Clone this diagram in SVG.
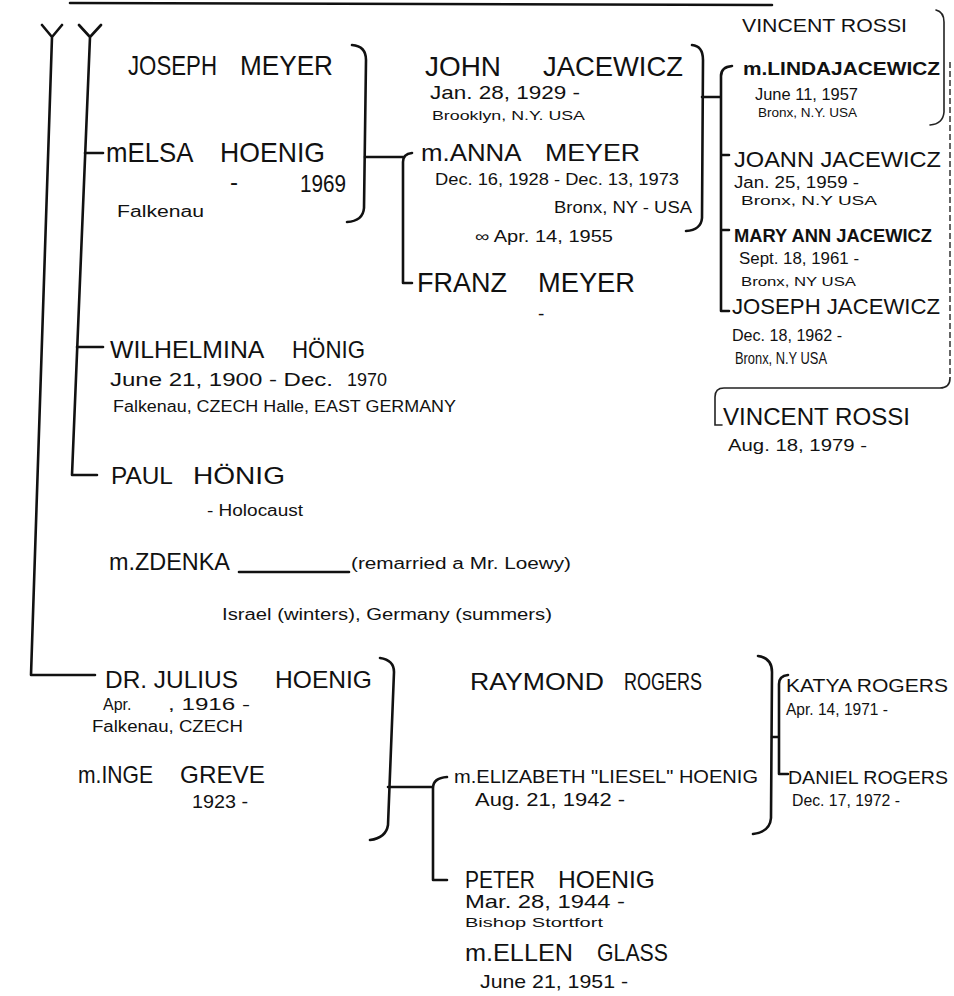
<svg xmlns="http://www.w3.org/2000/svg" width="954" height="996" viewBox="0 0 954 996">
<style>
text{font-family:"Liberation Sans","DejaVu Sans",sans-serif;fill:#111}
.n{font-size:28px}
.m{font-size:24px}
.r{font-size:22px}
.c{font-size:19px}
.d{font-size:16px}
.s{font-size:13px}
.b{font-weight:bold}
.ln{fill:none;stroke:#111;stroke-width:2.6;stroke-linecap:round;stroke-linejoin:round}
.th{fill:none;stroke:#222;stroke-width:1.6;stroke-linecap:round}
.ds{fill:none;stroke:#333;stroke-width:1.5;stroke-dasharray:6 3}
</style>
<rect width="954" height="996" fill="#fff"/>
<g id="connectors">
<path class="ln" d="M70 3 L772 5" stroke-width="3.5"/>
<path class="ln" d="M42 25 L52 37 L62 25 M52 37 L31 675 L95 675"/>
<path class="ln" d="M79 25 L90 37 L101 25 M90 37 L72 475 L97 475"/>
<path class="ln" d="M85 153 L103 153"/>
<path class="ln" d="M77 347 L103 347"/>
<path class="ln" d="M352 45 Q366 46 366 60 L364 208 Q363 221 347 222"/>
<path class="ln" d="M365 157 L403 157 M412 153 Q403 154 403 162 L403 283 L412 283"/>
<path class="ln" d="M692 45 Q703 46 703 60 L702 218 Q701 230 686 231"/>
<path class="ln" d="M702 97 L721 97 M732 66 Q721 67 721 76 L721 311 L729 311 M721 155 L729 155 M721 230 L729 230"/>
<path class="th" d="M936 10 Q944 12 944 22 L944 112 Q943 124 930 125"/>
<path class="ds" d="M950 62 L950 378"/>
<path class="th" d="M950 378 Q950 388 940 388 L724 388 Q715 388 715 397 L715 425 L722 425" stroke-width="1.9"/>
<path class="ln" d="M380 658 Q394 660 394 672 L388 825 Q386 838 370 840"/>
<path class="ln" d="M388 787 L433 787 M447 777 Q433 778 433 788 L433 880 L447 880"/>
<path class="ln" d="M758 656 Q772 658 772 672 L771 818 Q770 832 753 834" stroke-width="2.2"/>
<path class="ln" d="M772 737 L779 737 M788 675 Q779 676 779 684 L779 774 L788 774" stroke-width="2.2"/>
<path class="ln" d="M239 572 L349 572" stroke-width="2"/>
</g>
<g id="joseph-meyer">
<text class="n"><tspan x="128" y="75" textLength="89" lengthAdjust="spacingAndGlyphs">JOSEPH</tspan> <tspan x="240" y="75" textLength="93" lengthAdjust="spacingAndGlyphs">MEYER</tspan></text>
</g>
<g id="elsa-hoenig">
<text class="n"><tspan x="106" y="162" textLength="86" lengthAdjust="spacingAndGlyphs">mELSA</tspan> <tspan x="220" y="162" textLength="105" lengthAdjust="spacingAndGlyphs">HOENIG</tspan></text>
<text class="m"><tspan x="230" y="190">-</tspan> <tspan x="300" y="192" textLength="46" lengthAdjust="spacingAndGlyphs">1969</tspan></text>
<text class="d" x="117" y="217" textLength="87" lengthAdjust="spacingAndGlyphs">Falkenau</text>
</g>
<g id="john-jacewicz">
<text class="n"><tspan x="425" y="76" textLength="76" lengthAdjust="spacingAndGlyphs">JOHN</tspan> <tspan x="543" y="76" textLength="140" lengthAdjust="spacingAndGlyphs">JACEWICZ</tspan></text>
<text class="c" x="430" y="99" textLength="150" lengthAdjust="spacingAndGlyphs">Jan. 28, 1929 -</text>
<text class="s" x="432" y="120" textLength="153" lengthAdjust="spacingAndGlyphs">Brooklyn, N.Y. USA</text>
</g>
<g id="anna-meyer">
<text class="m"><tspan x="421" y="161" textLength="99" lengthAdjust="spacingAndGlyphs">m.ANNA</tspan> <tspan x="545" y="161" textLength="95" lengthAdjust="spacingAndGlyphs">MEYER</tspan></text>
<text class="d" x="435" y="185" textLength="244" lengthAdjust="spacingAndGlyphs">Dec. 16, 1928 - Dec. 13, 1973</text>
<text class="d" x="554" y="213" textLength="138" lengthAdjust="spacingAndGlyphs">Bronx, NY - USA</text>
<text class="d" x="475" y="242" textLength="138" lengthAdjust="spacingAndGlyphs">∞ Apr. 14, 1955</text>
</g>
<g id="franz-meyer">
<text class="n"><tspan x="417" y="292" textLength="90" lengthAdjust="spacingAndGlyphs">FRANZ</tspan> <tspan x="538" y="292" textLength="97" lengthAdjust="spacingAndGlyphs">MEYER</tspan></text>
<text class="c" x="538" y="320">-</text>
</g>
<g id="vincent-rossi-top">
<text class="c" x="742" y="32" textLength="165" lengthAdjust="spacingAndGlyphs">VINCENT ROSSI</text>
</g>
<g id="linda-jacewicz">
<text class="c b" x="743" y="75" textLength="197" lengthAdjust="spacingAndGlyphs">m.LINDAJACEWICZ</text>
<text class="d" x="755" y="100" textLength="103" lengthAdjust="spacingAndGlyphs">June 11, 1957</text>
<text class="s" x="758" y="117" textLength="99" lengthAdjust="spacingAndGlyphs">Bronx, N.Y. USA</text>
</g>
<g id="joann-jacewicz">
<text class="r" x="734" y="167" textLength="207" lengthAdjust="spacingAndGlyphs">JOANN JACEWICZ</text>
<text class="d" x="734" y="188" textLength="125" lengthAdjust="spacingAndGlyphs">Jan. 25, 1959 -</text>
<text class="s" x="741" y="205" textLength="136" lengthAdjust="spacingAndGlyphs">Bronx, N.Y USA</text>
</g>
<g id="maryann-jacewicz">
<text class="c b" x="734" y="242" textLength="198" lengthAdjust="spacingAndGlyphs">MARY ANN JACEWICZ</text>
<text class="d" x="739" y="264" textLength="120" lengthAdjust="spacingAndGlyphs">Sept. 18, 1961 -</text>
<text class="s" x="741" y="286" textLength="115" lengthAdjust="spacingAndGlyphs">Bronx, NY USA</text>
</g>
<g id="joseph-jacewicz">
<text class="r" x="732" y="314" textLength="208" lengthAdjust="spacingAndGlyphs">JOSEPH JACEWICZ</text>
<text class="d" x="732" y="341" textLength="110" lengthAdjust="spacingAndGlyphs">Dec. 18, 1962 -</text>
<text class="d" x="735" y="364" textLength="92" lengthAdjust="spacingAndGlyphs">Bronx, N.Y USA</text>
</g>
<g id="vincent-rossi">
<text class="m" x="723" y="425" textLength="187" lengthAdjust="spacingAndGlyphs">VINCENT ROSSI</text>
<text class="d" x="728" y="451" textLength="139" lengthAdjust="spacingAndGlyphs">Aug. 18, 1979 -</text>
</g>
<g id="wilhelmina-honig">
<text class="m"><tspan x="110" y="358" textLength="153" lengthAdjust="spacingAndGlyphs">WILHELMINA</tspan> <tspan x="292" y="358" textLength="73" lengthAdjust="spacingAndGlyphs">HÖNIG</tspan></text>
<text class="c"><tspan x="110" y="386" textLength="223" lengthAdjust="spacingAndGlyphs">June 21, 1900 - Dec.</tspan> <tspan x="347" y="386" textLength="40" lengthAdjust="spacingAndGlyphs">1970</tspan></text>
<text class="d" x="113" y="412" textLength="343" lengthAdjust="spacingAndGlyphs">Falkenau, CZECH Halle, EAST GERMANY</text>
</g>
<g id="paul-honig">
<text class="m"><tspan x="111" y="484" textLength="61" lengthAdjust="spacingAndGlyphs">PAUL</tspan> <tspan x="193" y="484" textLength="92" lengthAdjust="spacingAndGlyphs">HÖNIG</tspan></text>
<text class="d" x="207" y="516" textLength="96" lengthAdjust="spacingAndGlyphs">- Holocaust</text>
</g>
<g id="zdenka">
<text class="m" x="109" y="570" textLength="121" lengthAdjust="spacingAndGlyphs">m.ZDENKA</text>
<text class="d" x="351" y="569" textLength="220" lengthAdjust="spacingAndGlyphs">(remarried a Mr. Loewy)</text>
<text class="d" x="222" y="620" textLength="330" lengthAdjust="spacingAndGlyphs">Israel (winters), Germany (summers)</text>
</g>
<g id="julius-hoenig">
<text class="m"><tspan x="105" y="688" textLength="133" lengthAdjust="spacingAndGlyphs">DR. JULIUS</tspan> <tspan x="275" y="688" textLength="97" lengthAdjust="spacingAndGlyphs">HOENIG</tspan></text>
<text class="d"><tspan x="103" y="710">Apr.</tspan> <tspan x="168" y="710" textLength="82" lengthAdjust="spacingAndGlyphs">, 1916 -</tspan></text>
<text class="d" x="92" y="732" textLength="151" lengthAdjust="spacingAndGlyphs">Falkenau, CZECH</text>
</g>
<g id="inge-greve">
<text class="m"><tspan x="78" y="783" textLength="75" lengthAdjust="spacingAndGlyphs">m.INGE</tspan> <tspan x="180" y="783" textLength="85" lengthAdjust="spacingAndGlyphs">GREVE</tspan></text>
<text class="c" x="192" y="808" textLength="56" lengthAdjust="spacingAndGlyphs">1923 -</text>
</g>
<g id="raymond-rogers">
<text class="m"><tspan x="470" y="690" textLength="134" lengthAdjust="spacingAndGlyphs">RAYMOND</tspan> <tspan x="624" y="690" textLength="78" lengthAdjust="spacingAndGlyphs">ROGERS</tspan></text>
</g>
<g id="elizabeth-hoenig">
<text class="c" x="454" y="783" textLength="304" lengthAdjust="spacingAndGlyphs">m.ELIZABETH "LIESEL" HOENIG</text>
<text class="c" x="475" y="806" textLength="150" lengthAdjust="spacingAndGlyphs">Aug. 21, 1942 -</text>
</g>
<g id="katya-rogers">
<text class="c" x="786" y="692" textLength="162" lengthAdjust="spacingAndGlyphs">KATYA ROGERS</text>
<text class="d" x="786" y="715" textLength="102" lengthAdjust="spacingAndGlyphs">Apr. 14, 1971 -</text>
</g>
<g id="daniel-rogers">
<text class="c" x="788" y="784" textLength="160" lengthAdjust="spacingAndGlyphs">DANIEL ROGERS</text>
<text class="d" x="792" y="806" textLength="108" lengthAdjust="spacingAndGlyphs">Dec. 17, 1972 -</text>
</g>
<g id="peter-hoenig">
<text class="m"><tspan x="465" y="888" textLength="70" lengthAdjust="spacingAndGlyphs">PETER</tspan> <tspan x="558" y="888" textLength="97" lengthAdjust="spacingAndGlyphs">HOENIG</tspan></text>
<text class="c" x="465" y="908" textLength="160" lengthAdjust="spacingAndGlyphs">Mar. 28, 1944 -</text>
<text class="s" x="465" y="927" textLength="138" lengthAdjust="spacingAndGlyphs">Bishop Stortfort</text>
</g>
<g id="ellen-glass">
<text class="m"><tspan x="465" y="961" textLength="108" lengthAdjust="spacingAndGlyphs">m.ELLEN</tspan> <tspan x="597" y="961" textLength="71" lengthAdjust="spacingAndGlyphs">GLASS</tspan></text>
<text class="c" x="480" y="988" textLength="148" lengthAdjust="spacingAndGlyphs">June 21, 1951 -</text>
</g>
</svg>
